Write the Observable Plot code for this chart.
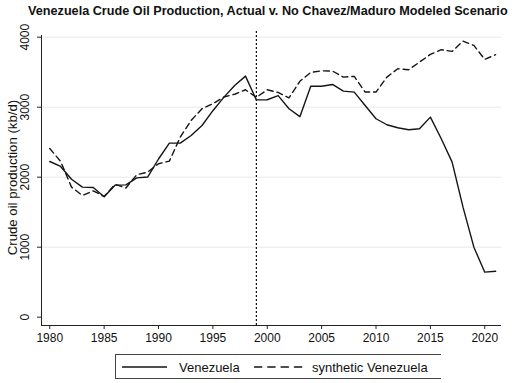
<!DOCTYPE html>
<html>
<head>
<meta charset="utf-8">
<script src="https://cdn.jsdelivr.net/npm/d3@7"></script>
<script src="https://cdn.jsdelivr.net/npm/@observablehq/plot@0.6"></script>
<style>
  html, body { margin: 0; padding: 0; background: #fff; }
  body { width: 512px; height: 383px; position: relative; overflow: hidden; font-family: "Liberation Sans", Arial, sans-serif; }
  #title { position: absolute; top: 4px; left: 28px; font-weight: bold; font-size: 13px; line-height: 15px; color: #111; white-space: nowrap; }
  #chart { position: absolute; top: 20px; left: 0; }
  #legend { position: absolute; top: 354px; left: 115px; width: 326px; height: 25px; border: 1px solid #444; border-right: none; box-sizing: border-box; }
  #legend svg { display: block; }
</style>
</head>
<body>
<div id="title">Venezuela Crude Oil Production, Actual v. No Chavez/Maduro Modeled Scenario</div>
<div id="chart"></div>
<div id="legend"></div>
<script>
const years = d3.range(1980, 2022);
const venezuela = [2224, 2153, 1970, 1858, 1852, 1720, 1886, 1890, 1990, 2002, 2260, 2487, 2487, 2596, 2739, 2950, 3140, 3311, 3444, 3104, 3106, 3166, 2978, 2865, 3299, 3299, 3325, 3230, 3216, 3025, 2835, 2749, 2706, 2678, 2692, 2858, 2549, 2215, 1572, 1000, 643, 657];
const synthetic = [2410, 2225, 1858, 1739, 1805, 1725, 1898, 1846, 2035, 2072, 2192, 2230, 2572, 2811, 2978, 3049, 3146, 3185, 3249, 3140, 3249, 3210, 3133, 3370, 3496, 3520, 3516, 3430, 3440, 3216, 3216, 3430, 3549, 3535, 3644, 3754, 3821, 3797, 3944, 3883, 3683, 3750];
const seriesNames = ["Venezuela", "synthetic Venezuela"];
const xTicks = [1980, 1985, 1990, 1995, 2000, 2005, 2010, 2015, 2020];
const yTicks = [0, 1000, 2000, 3000, 4000];
const gridTicks = [1000, 2000, 3000, 4000];
const eventYear = [1999];
const yLabel = "Crude oil production (kb/d)";

const xDomain = [1979.24, 2021.54];
const yDomain = [-119, 4110];

const actual = years.map((y, i) => ({year: y, value: venezuela[i]}));
const synth = years.map((y, i) => ({year: y, value: synthetic[i]}));

const font = "Liberation Sans, Arial, sans-serif";

// fit the title to the reference width
(function fitTitle() {
  const el = document.getElementById("title");
  const w = el.getBoundingClientRect().width;
  if (w > 0) el.style.fontSize = (13 * 480 / w).toFixed(2) + "px";
})();

const chart = Plot.plot({
  width: 512,
  height: 332,
  marginLeft: 41,
  marginRight: 11,
  marginTop: 9,
  marginBottom: 27,
  style: {fontFamily: font, fontSize: "12px", color: "#111", background: "white", overflow: "visible"},
  x: {domain: xDomain, label: null},
  y: {domain: yDomain, label: null},
  marks: [
    Plot.ruleY(gridTicks, {x1: xDomain[0], x2: xDomain[1], stroke: "#e8e8e8", strokeWidth: 1}),
    Plot.ruleX([xDomain[0]], {y1: yDomain[0], y2: 4025, stroke: "#222", strokeWidth: 1}),
    Plot.ruleY([yDomain[0]], {x1: xDomain[0], x2: xDomain[1], stroke: "#222", strokeWidth: 1}),
    Plot.axisX({ticks: xTicks, tickSize: 4, tickPadding: 4, tickFormat: d => String(d), fontSize: 12, stroke: "#222", fill: "#111"}),
    Plot.axisY({ticks: yTicks, tickSize: 4, tickFormat: () => "", stroke: "#222"}),
    Plot.text(yTicks, {frameAnchor: "left", y: d => d, text: d => String(d), rotate: -90, dx: -16, fontSize: 12, fill: "#111", textAnchor: "middle", lineAnchor: "middle"}),
    Plot.text([yLabel], {frameAnchor: "left", y: 1995, text: d => d, rotate: -90, dx: -29, fontSize: 13.2, fill: "#111", textAnchor: "middle", lineAnchor: "middle"}),
    Plot.ruleX(eventYear, {y1: yDomain[0], y2: yDomain[1], stroke: "#111", strokeWidth: 1.2, strokeDasharray: "2,2"}),
    Plot.line(synth, {x: "year", y: "value", stroke: "#151515", strokeWidth: 1.4, strokeDasharray: "6,4"}),
    Plot.line(actual, {x: "year", y: "value", stroke: "#151515", strokeWidth: 1.4})
  ]
});
document.getElementById("chart").appendChild(chart);

// legend
const lg = d3.select("#legend").append("svg").attr("width", 325).attr("height", 23);
lg.append("line").attr("x1", 6).attr("x2", 51).attr("y1", 12).attr("y2", 12).attr("stroke", "#151515").attr("stroke-width", 1.4);
lg.append("text").attr("x", 63).attr("y", 16.5).attr("font-size", 13).attr("font-family", font).attr("fill", "#111").text(seriesNames[0]);
lg.append("line").attr("x1", 138).attr("x2", 188).attr("y1", 12).attr("y2", 12).attr("stroke", "#151515").attr("stroke-width", 1.4).attr("stroke-dasharray", "8.3,5");
lg.append("text").attr("x", 196).attr("y", 16.5).attr("font-size", 13).attr("font-family", font).attr("fill", "#111").text(seriesNames[1]);
</script>
</body>
</html>
